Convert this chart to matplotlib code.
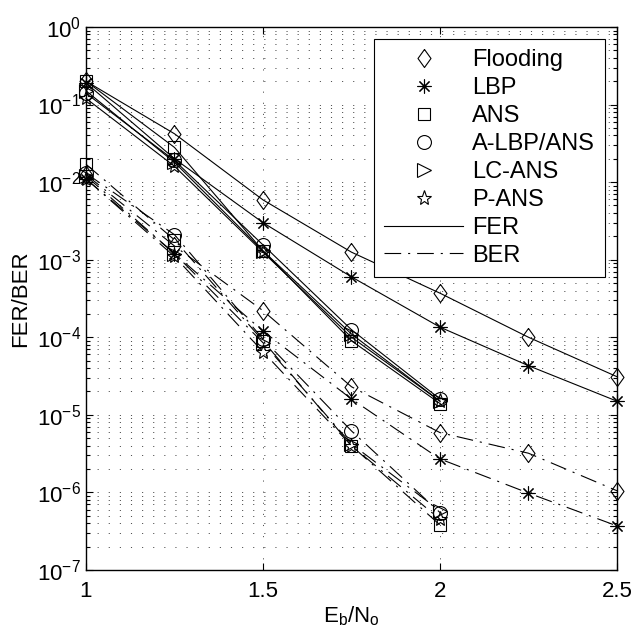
import numpy as np
import matplotlib
matplotlib.use("Agg")
import matplotlib.pyplot as plt
from matplotlib.lines import Line2D
from matplotlib.ticker import FixedLocator, NullFormatter

plt.rcParams['font.family'] = ['Liberation Sans', 'DejaVu Sans']
plt.rcParams['mathtext.fontset'] = 'custom'
plt.rcParams['mathtext.rm'] = 'Liberation Sans'
plt.rcParams['mathtext.it'] = 'Liberation Sans:italic'
plt.rcParams['lines.scale_dashes'] = False

# Eb/No points
snr_full = [1.0, 1.25, 1.5, 1.75, 2.0, 2.25, 2.5]
snr_short = [1.0, 1.25, 1.5, 1.75, 2.0]

# FER curves
fer_flooding = [0.20, 0.042, 0.0059, 0.00125, 0.00037, 1.0e-4, 3.1e-5]
fer_lbp = [0.19, 0.020, 0.0030, 0.00060, 0.000135, 4.3e-5, 1.5e-5]
fer_ans = [0.20, 0.028, 0.0013, 9.0e-5, 1.4e-5]
fer_albp = [0.14, 0.019, 0.00155, 0.000125, 1.6e-5]
fer_lcans = [0.15, 0.018, 0.0013, 0.00011, 1.5e-5]
fer_pans = [0.12, 0.016, 0.00125, 0.00010, 1.5e-5]

# BER curves
ber_flooding = [0.0125, 0.0015, 0.00022, 2.3e-5, 5.9e-6, 3.2e-6, 1.05e-6]
ber_lbp = [0.011, 0.0012, 0.00012, 1.6e-5, 2.7e-6, 9.8e-7, 3.7e-7]
ber_ans = [0.017, 0.0018, 9.0e-5, 4.0e-6, 3.8e-7]
ber_albp = [0.013, 0.0021, 9.5e-5, 6.2e-6, 5.5e-7]
ber_lcans = [0.012, 0.0012, 8.5e-5, 4.2e-6, 5.8e-7]
ber_pans = [0.011, 0.0011, 6.5e-5, 4.0e-6, 4.5e-7]

names = ['Flooding', 'LBP', 'ANS', 'A-LBP/ANS', 'LC-ANS', 'P-ANS']

# matlab style diamond, a bit taller than wide
diamond = [(0, 1), (0.72, 0), (0, -1), (-0.72, 0), (0, 1)]
markers = [diamond, (8, 2, 0), 's', 'o', '>', '*']
msizes = [13, 10, 9, 10, 10, 11]

fer_sets = [(snr_full, fer_flooding), (snr_full, fer_lbp), (snr_short, fer_ans),
            (snr_short, fer_albp), (snr_short, fer_lcans), (snr_short, fer_pans)]
ber_sets = [(snr_full, ber_flooding), (snr_full, ber_lbp), (snr_short, ber_ans),
            (snr_short, ber_albp), (snr_short, ber_lcans), (snr_short, ber_pans)]

dashdot = (0, (12, 5, 1.5, 5))

fig = plt.figure(figsize=(6.37, 6.39), dpi=100)
ax = fig.add_axes([0.135, 0.108, 0.8336, 0.8498])

for i in range(6):
    x, y = fer_sets[i]
    ax.semilogy(x, y, color='k', lw=0.8, linestyle='-', marker=markers[i],
                ms=msizes[i], mfc='none', mec='k', mew=0.8, clip_on=False)
    x, y = ber_sets[i]
    ax.semilogy(x, y, color='k', lw=0.8, linestyle=dashdot, marker=markers[i],
                ms=msizes[i], mfc='none', mec='k', mew=0.8, clip_on=False)

ax.set_xlim(1, 2.5)
ax.set_ylim(1e-7, 1e0)
ax.xaxis.set_major_locator(FixedLocator([1, 1.5, 2, 2.5]))
ax.set_xticklabels(['1', '1.5', '2', '2.5'])

decades = [1e-7, 1e-6, 1e-5, 1e-4, 1e-3, 1e-2, 1e-1, 1e0]
ax.yaxis.set_major_locator(FixedLocator(decades))
ax.set_yticklabels([r'$10^{%d}$' % int(np.log10(d)) for d in decades])
minor = [m * d for d in decades[:-1] for m in range(2, 10)]
ax.yaxis.set_minor_locator(FixedLocator(minor))
ax.yaxis.set_minor_formatter(NullFormatter())

ax.tick_params(which='both', direction='in', top=True, right=True, labelsize=16,
               width=0.8, color='k')
ax.tick_params(which='major', length=5)
ax.tick_params(which='minor', length=3)
ax.tick_params(axis='x', pad=8)

grid_style = (0, (0.8, 7.2))
ax.grid(True, which='major', axis='both', color='0.2', lw=0.6, linestyle=grid_style)
ax.grid(True, which='minor', axis='y', color='0.2', lw=0.6, linestyle=grid_style)

for sp in ax.spines.values():
    sp.set_linewidth(1.0)

ax.set_xlabel(r'E$_\mathrm{b}$/N$_\mathrm{o}$', fontsize=16, labelpad=2)
ax.set_ylabel('FER/BER', fontsize=16, labelpad=4)

handles = []
for i in range(6):
    handles.append(Line2D([], [], linestyle='none', marker=markers[i], ms=msizes[i],
                          mfc='none', mec='k', mew=0.8))
handles.append(Line2D([], [], color='k', lw=0.8, linestyle='-'))
handles.append(Line2D([], [], color='k', lw=0.8, linestyle=dashdot))
labels = names + ['FER', 'BER']

leg = ax.legend(handles, labels, loc='upper right', fontsize=17, frameon=True,
                fancybox=False, framealpha=1, edgecolor='k', handlelength=3.35,
                labelspacing=0.25, borderaxespad=0.5, handletextpad=0.35,
                borderpad=0.45)
leg.get_frame().set_linewidth(0.8)

fig.savefig('out.png', dpi=100)
